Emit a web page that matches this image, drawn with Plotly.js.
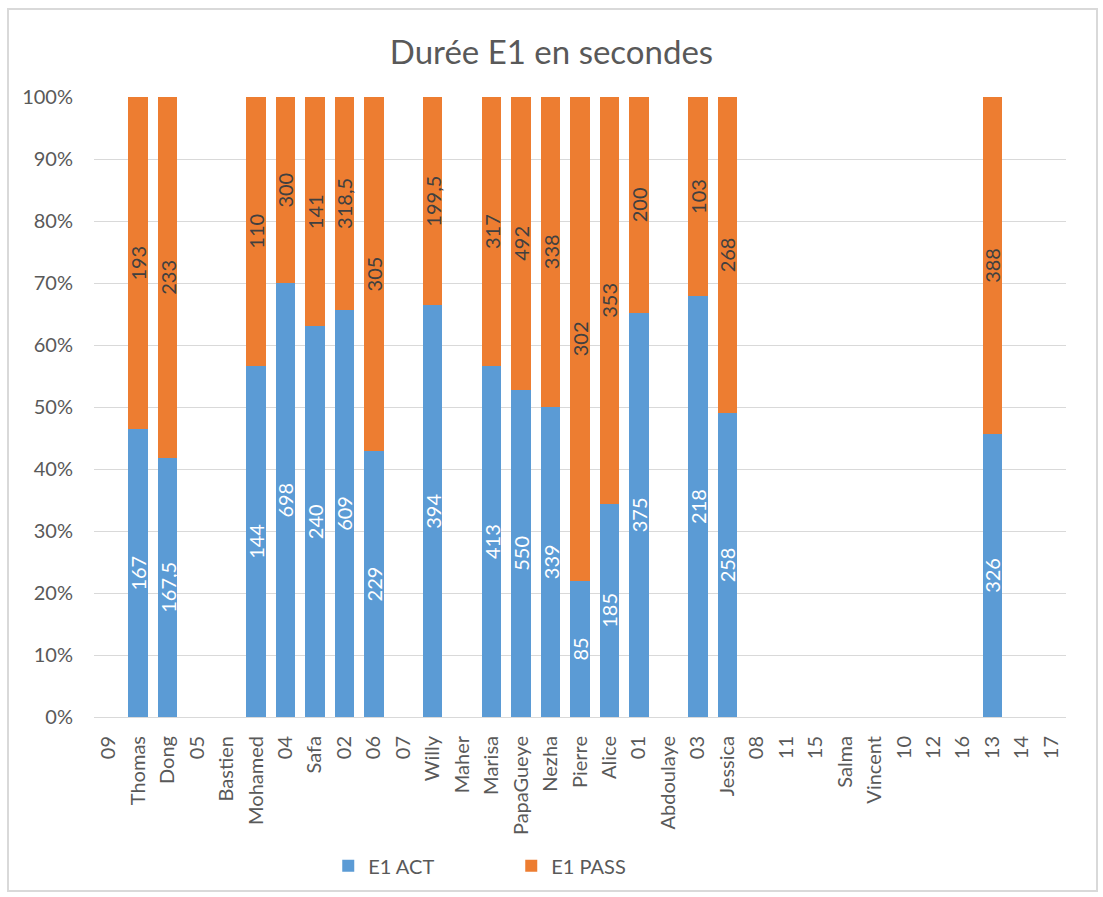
<!DOCTYPE html>
<html><head><meta charset="utf-8">
<script src="https://cdn.plot.ly/plotly-3.0.1.min.js"></script>
<style>
html,body{margin:0;padding:0;background:#fff;}
#frame{position:absolute;left:7px;top:8px;width:1087px;height:880px;border:2px solid #d9d9d9;pointer-events:none;z-index:10;}
#chart{position:absolute;left:0;top:0;width:1103px;height:897px;}
</style></head>
<body>
<div id="chart"></div><div id="frame"></div>
<script>
const categories = ["09","Thomas","Dong","05","Bastien","Mohamed","04","Safa","02","06","07","Willy","Maher","Marisa","PapaGueye","Nezha","Pierre","Alice","01","Abdoulaye","03","Jessica","08","11","15","Salma","Vincent","10","12","16","13","14","17"];
const e1Act = [null,167,167.5,null,null,144,698,240,609,229,null,394,null,413,550,339,85,185,375,null,218,258,null,null,null,null,null,null,null,null,326,null,null];
const e1Pass = [null,193,233,null,null,110,300,141,318.5,305,null,199.5,null,317,492,338,302,353,200,null,103,268,null,null,null,null,null,null,null,null,388,null,null];
const yTicks = [0,10,20,30,40,50,60,70,80,90,100];

const fmt = v => v == null ? "" : String(v).replace(".", ",");
const font = "Lato, 'Open Sans', sans-serif";
const gray = "#595959";

const traces = [
  {type:"bar", name:"E1 ACT", x:categories, y:e1Act, marker:{color:"#5b9bd5"},
   text:e1Act.map(fmt), textposition:"inside", insidetextanchor:"middle", textangle:-90,
   constraintext:"none", textfont:{color:"#ffffff", size:20, family:font}, hoverinfo:"x+y"},
  {type:"bar", name:"E1 PASS", x:categories, y:e1Pass, marker:{color:"#ed7d31"},
   text:e1Pass.map(fmt), textposition:"inside", insidetextanchor:"middle", textangle:-90,
   constraintext:"none", textfont:{color:"#404040", size:20, family:font}, hoverinfo:"x+y"}
];

const layout = {
  width:1103, height:897,
  margin:{l:94, r:37, t:97, b:177},
  barmode:"stack", barnorm:"percent", bargap:0.34,
  paper_bgcolor:"#fff", plot_bgcolor:"#fff",
  font:{family:font, color:gray, size:20},
  title:{text:"Durée E1 en secondes", font:{size:33, color:gray, family:font}, x:0.5, xanchor:"center", y:0.942, yanchor:"middle"},
  xaxis:{type:"category", tickangle:-90, tickfont:{size:20, color:gray}, showgrid:false,
         showline:true, linecolor:"#d9d9d9", linewidth:1, ticks:"", ticklabelstandoff:10, automargin:false},
  yaxis:{range:[0,100], tickvals:yTicks, ticktext:yTicks.map(v=>v+"%"), tickfont:{size:20, color:gray},
         showgrid:true, gridcolor:"#d9d9d9", gridwidth:1, zeroline:false, showline:false, ticks:"", ticklabelstandoff:20, automargin:false},
  legend:{orientation:"h", x:0.241, xanchor:"left", y:-0.24, yanchor:"middle",
          font:{size:20, color:gray}, entrywidth:138, traceorder:"normal"},
  showlegend:true
};
Plotly.newPlot("chart", traces, layout, {displayModeBar:false, staticPlot:true});
</script>
</body></html>
